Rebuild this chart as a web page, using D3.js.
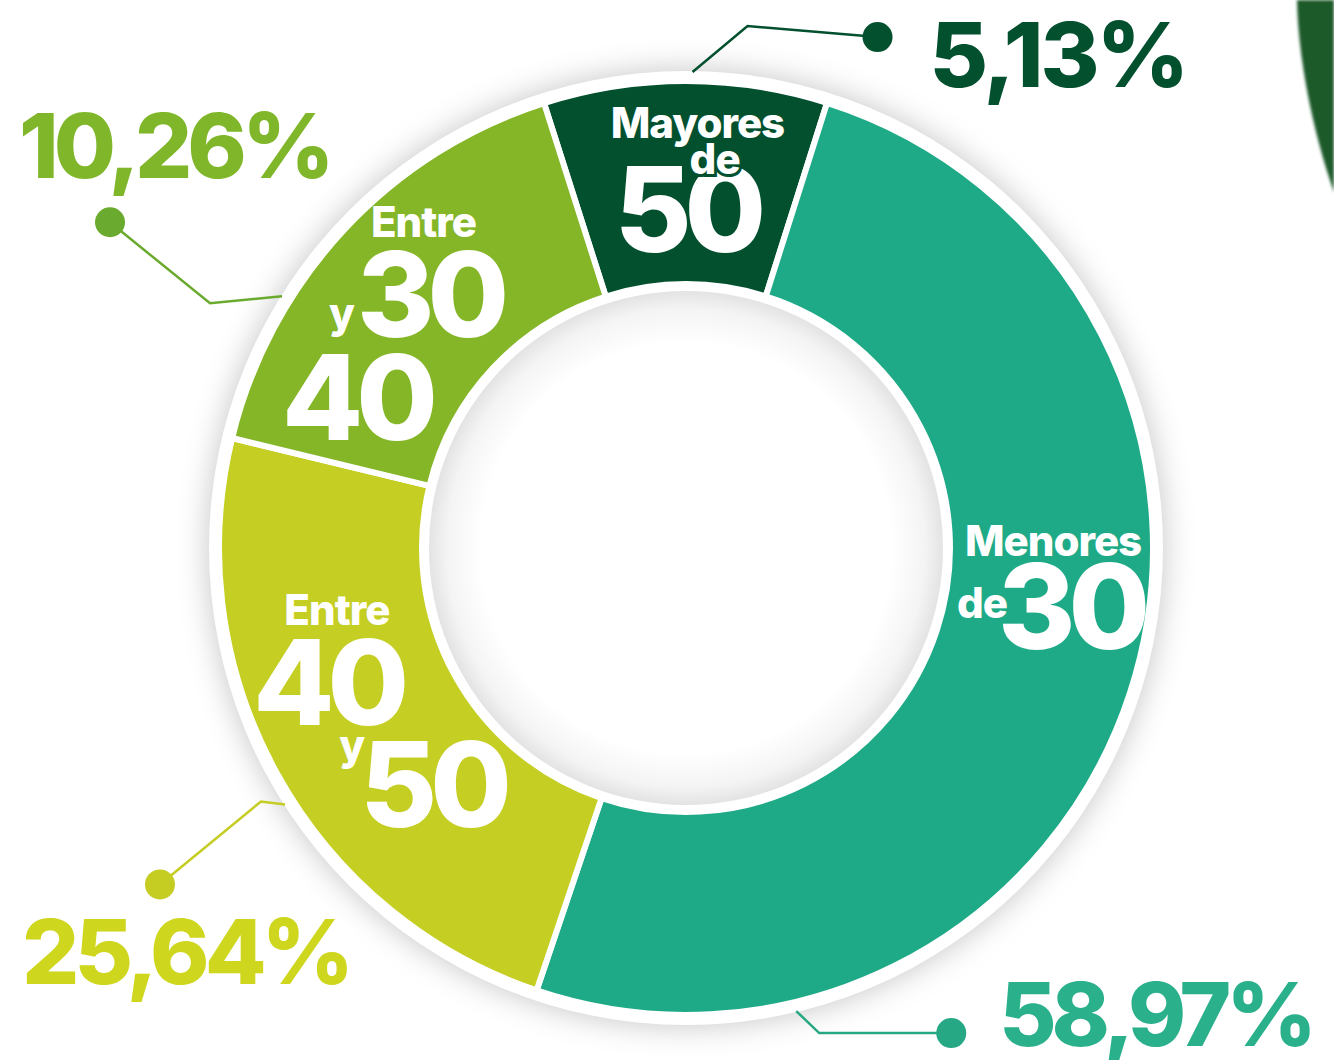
<!DOCTYPE html>
<html>
<head>
<meta charset="utf-8">
<script src="https://cdn.jsdelivr.net/npm/d3@7"></script>
<style>
  html, body { margin: 0; padding: 0; background: #fff; }
  svg { display: block; }
  text { font-family: Inter, "Open Sans", sans-serif; font-weight: 800; }
</style>
</head>
<body>
<svg width="1334" height="1060"></svg>
<script>
// grupos de edad, en el orden del anillo (empezando arriba)
var groups = ["Mayores de 50", "Menores de 30", "Entre 40 y 50", "Entre 30 y 40"];
var percentLabels = ["5,13%", "58,97%", "25,64%", "10,26%"];
// parte del anillo que ocupa cada grupo en el gráfico original (%)
var arcShare = [9.8, 50.3, 23.6, 16.3];

var colors = ["#03502f", "#1eaa87", "#c5ce23", "#84b628"];
var labelColors = ["#03502f", "#2bb08c", "#cfd61e", "#80b72a"];
var dotColors = ["#03502f", "#27a884", "#c5cc22", "#6aaa2e"];

var svg = d3.select("svg"),
	width = +svg.attr("width"),
	height = +svg.attr("height");

var cx = 686, cy = 548;
var rOuter = 467, rInner = 264;

var defs = svg.append("defs");
defs.append("filter")
	.attr("id", "shadow")
	.attr("x", "-20%").attr("y", "-20%")
	.attr("width", "140%").attr("height", "140%")
	.append("feGaussianBlur")
	.attr("stdDeviation", 15);
defs.append("filter")
	.attr("id", "soft")
	.append("feGaussianBlur")
	.attr("stdDeviation", 1.5);

var grad = defs.append("radialGradient").attr("id", "hole");
grad.append("stop").attr("offset", "80%").attr("stop-color", "#ffffff");
grad.append("stop").attr("offset", "93%").attr("stop-color", "#f4f4f4");
grad.append("stop").attr("offset", "100%").attr("stop-color", "#e3e3e3");

// hoja verde en la esquina
svg.append("path")
	.attr("d", "M1297,0 C1298,55 1312,130 1334,192 L1334,0 Z")
	.attr("fill", "#1b5a2c")
	.attr("filter", "url(#soft)");

var g = svg.append("g").attr("transform", "translate(" + cx + "," + cy + ")");

g.append("circle")
	.attr("r", 478)
	.attr("fill", "rgba(0,0,0,0.22)")
	.attr("filter", "url(#shadow)");
g.append("circle")
	.attr("r", 477)
	.attr("fill", "#fff");

var pie = d3.pie()
	.sort(null)
	.startAngle(-17.7 * Math.PI / 180)
	.endAngle((360 - 17.7) * Math.PI / 180)
	.value(function(d) { return d; });

var arc = d3.arc().innerRadius(rInner).outerRadius(rOuter);
var arcs = pie(arcShare);

g.selectAll(".slice")
	.data(arcs)
	.enter().append("path")
	.attr("class", "slice")
	.attr("d", arc)
	.attr("fill", function(d, i) { return colors[i]; })
	.attr("stroke", "#fff")
	.attr("stroke-width", 6)
	.attr("stroke-linejoin", "miter");

g.append("circle")
	.attr("r", 257)
	.attr("fill", "url(#hole)");

// textos dentro de cada sector, relativos al centroide
var labelArc = d3.arc().innerRadius(365).outerRadius(365);
var inside = [
	[{t: "Mayores", x: -75, y: -45, s: 42}, {t: "50", x: -71, y: 69, s: 118}, {t: "de", x: 4, y: -9, s: 42, cut: true}],
	[{t: "Menores", x: -68, y: -106, s: 42}, {t: "de", x: -76, y: -44, s: 42}, {t: "30", x: -35, y: -13, s: 118}],
	[{t: "Entre", x: -82, y: -99, s: 42}, {t: "40", x: -113, y: 1, s: 118}, {t: "y", x: -27, y: 36, s: 42}, {t: "50", x: -6, y: 103, s: 118}],
	[{t: "Entre", x: -48, y: -62, s: 42}, {t: "y", x: -90, y: 29, s: 42}, {t: "30", x: -62, y: 38, s: 118}, {t: "40", x: -137, y: 141, s: 118}]
];

arcs.forEach(function(d, i) {
	var c = labelArc.centroid(d);
	inside[i].forEach(function(l) {
		var t = g.append("text")
			.attr("x", c[0] + l.x)
			.attr("y", c[1] + l.y)
			.attr("fill", "#fff")
			.attr("font-size", l.s)
			.attr("letter-spacing", l.s > 60 ? -7 : -1)
			.text(l.t);
		if (l.cut) {
			t.attr("stroke", colors[i])
				.attr("stroke-width", 6)
				.attr("paint-order", "stroke");
		}
	});
});

// líneas de llamada y porcentajes
var callout = [
	{f: 0.524, elbow: [55, -46], dot: [185, -35], text: [52, 50]},
	{f: 0.823, elbow: [23, 22], dot: [155, 22], text: [48, 13]},
	{f: 0.456, elbow: [-24, -3], dot: [-125, 80], text: [-138, 100]},
	{f: 0.312, elbow: [-72, 7], dot: [-172, -74], text: [-91, -44]}
];

arcs.forEach(function(d, i) {
	var co = callout[i];
	var a = d.startAngle + co.f * (d.endAngle - d.startAngle);
	var p0 = [476 * Math.sin(a), -476 * Math.cos(a)];
	var p1 = [p0[0] + co.elbow[0], p0[1] + co.elbow[1]];
	var p2 = [p0[0] + co.dot[0], p0[1] + co.dot[1]];

	g.append("path")
		.attr("d", d3.line()([p0, p1, p2]))
		.attr("fill", "none")
		.attr("stroke", dotColors[i])
		.attr("stroke-width", 2.5);
	g.append("circle")
		.attr("cx", p2[0])
		.attr("cy", p2[1])
		.attr("r", 15)
		.attr("fill", dotColors[i]);
	g.append("text")
		.attr("x", p2[0] + co.text[0])
		.attr("y", p2[1] + co.text[1])
		.attr("fill", labelColors[i])
		.attr("font-size", i == 1 ? 88 : 90)
		.attr("letter-spacing", i == 0 ? -3 : -5)
		.text(percentLabels[i]);
});
</script>
</body>
</html>
